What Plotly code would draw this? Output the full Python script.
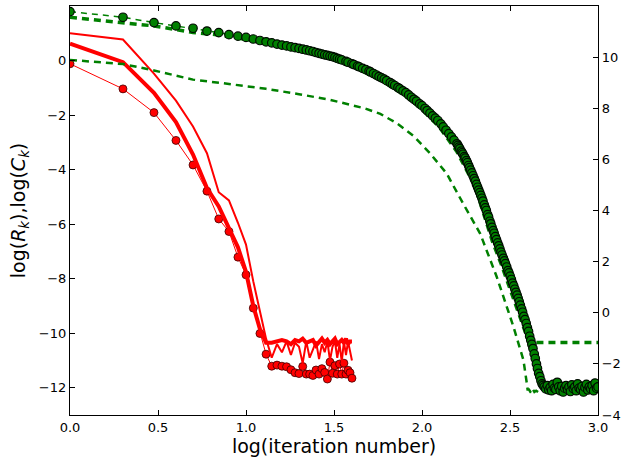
import numpy as np
import plotly.graph_objects as go

# ---------------- data ----------------
red_iter = list(range(1, 41))
r_thin = [1.0, 0.77, -0.48, -1.47, -2.42, -3.4, -4.83, -5.13, -5.95, -6.75, -8.1, -9.25, -10.2,
          -10.9, -10.4, -10.7, -10.3, -10.8, -10.35, -10.5, -11.1, -10.3, -10.9, -10.6, -10.3,
          -10.95, -10.4, -10.7, -10.3, -11.0, -10.5, -10.3, -10.9, -10.4, -11.05, -10.3, -10.8,
          -10.3, -10.6, -11.0]
r_thick = [0.62, -0.06, -1.18, -2.26, -3.45, -4.68, -5.35, -6.11, -6.85, -7.75, -9.0, -9.85, -10.35,
           -10.35, -10.3, -10.25, -10.3, -10.4, -10.25, -10.3, -10.2, -10.35, -10.3, -10.25, -10.45,
           -10.3, -10.2, -10.35, -10.25, -10.4, -10.3, -10.2, -10.4, -10.3, -10.25, -10.35, -10.2,
           -10.4, -10.3, -10.3]
r_dots = [-0.12, -1.04, -1.91, -2.93, -3.83, -4.79, -5.81, -6.27, -7.21, -7.86,
          -9.08, -10.01, -10.77, -11.21, -11.17, -11.21, -11.23, -11.34, -11.45, -11.48,
          -11.22, -11.5, -11.5, -11.55, -11.35, -11.5, -11.3, -11.44, -11.68, -11.06,
          -11.47, -11.19, -11.5, -11.13, -11.5, -11.1, -11.5, -11.36, -11.45, -11.65]

# green circles (right axis)
g1_iter_a = list(range(1, 33))
g1_val_a = [11.78, 11.56, 11.35, 11.22, 11.13, 11.02, 10.96, 10.88, 10.82, 10.77,
            10.71, 10.65, 10.60, 10.56, 10.51, 10.47, 10.44, 10.40, 10.37, 10.34,
            10.31, 10.28, 10.25, 10.22, 10.18, 10.15, 10.12, 10.09, 10.07, 10.04,
            10.02, 9.99]
g1_iter_b = [33, 34, 35, 37, 38, 40, 41, 43, 44, 46, 48, 50, 51, 53, 55, 57, 59, 61, 63, 66,
             68, 70, 73, 75, 78, 81, 84, 87, 90, 93, 97, 100, 104, 107, 111, 115, 119, 123,
             128, 132, 137, 142, 147, 152, 158]
g1_val_b = [9.95, 9.92, 9.89, 9.83, 9.80, 9.74, 9.71, 9.65, 9.62, 9.56, 9.51, 9.45, 9.42, 9.36,
            9.30, 9.24, 9.19, 9.14, 9.08, 9.00, 8.94, 8.89, 8.81, 8.76, 8.68, 8.61, 8.52, 8.43,
            8.35, 8.28, 8.17, 8.10, 7.99, 7.91, 7.81, 7.70, 7.61, 7.52, 7.39, 7.27, 7.14, 7.01,
            6.88, 6.75, 6.61]
g1_iter_c = [160, 162, 164, 167, 169, 171, 174, 176, 179, 181, 184, 186, 189, 192, 195, 198,
             201, 204, 207, 210, 213, 216, 219, 222, 226, 229, 232, 236, 239, 243, 246, 250,
             254, 257, 261, 265, 269, 273, 277, 281, 285, 290, 294, 298, 303, 308, 312, 317,
             322, 327, 332, 337, 342, 347, 352, 357, 362, 368, 373, 379, 385, 391, 397, 403,
             409, 415, 421, 427, 434, 440, 447, 453, 460, 467, 474, 481, 488]
g1_val_c = [6.55, 6.48, 6.42, 6.32, 6.26, 6.20, 6.11, 6.05, 5.95, 5.87, 5.76, 5.68, 5.58, 5.47,
            5.36, 5.25, 5.15, 5.02, 4.91, 4.80, 4.70, 4.59, 4.48, 4.37, 4.22, 4.10, 4.00, 3.84,
            3.74, 3.58, 3.48, 3.34, 3.21, 3.11, 2.98, 2.86, 2.73, 2.62, 2.50, 2.37, 2.26, 2.13,
            2.03, 1.92, 1.79, 1.65, 1.56, 1.43, 1.30, 1.16, 1.05, 0.92, 0.80, 0.69, 0.56, 0.43,
            0.30, 0.15, 0.02, -0.14, -0.27, -0.42, -0.58, -0.73, -0.92, -1.08, -1.24, -1.40,
            -1.61, -1.79, -2.0, -2.18, -2.37, -2.50, -2.66, -2.78, -2.84]
g1_iter_d = [495, 505, 515, 525, 535, 545, 555, 565, 576, 587, 598, 610, 622, 634, 646, 658,
             671, 684, 697, 710, 724, 738, 752, 766, 781, 796, 811, 827, 843, 859, 875, 892,
             909, 926, 944, 962, 981, 1000]
g1_val_d = [-2.9, -2.98, -2.85, -3.02, -2.92, -3.05, -2.8, -2.95, -3.0, -2.72, -2.9, -3.05,
            -2.88, -3.1, -2.95, -2.85, -3.0, -2.9, -3.08, -2.82, -2.97, -2.9, -3.05, -2.78,
            -2.95, -3.0, -2.88, -3.1, -2.92, -2.8, -3.02, -2.9, -2.98, -2.85, -3.05, -2.75,
            -2.95, -2.9]

# thick green dashed (right axis)
g2_iter = [1, 2, 3, 4, 5, 7, 10, 15, 20, 30, 40, 60, 80, 100, 126, 158, 200, 251, 282, 316,
           355, 380, 398, 410, 1000]
g2_val = [11.56, 11.35, 11.22, 11.08, 10.96, 10.87, 10.7, 10.48, 10.3, 10.0, 9.65, 9.05, 8.5,
          7.95, 7.25, 6.3, 4.95, 2.8, 1.9, 0.95, -0.05, -0.65, -1.0, -1.16, -1.16]

# lower green dashed (right axis)
g3_iter = [1, 2, 3, 5, 8, 13, 20, 30, 47, 58, 66, 72, 90, 111, 138, 164, 172, 214, 266, 331,
           377, 394, 398, 405, 415, 425, 435, 445, 460, 480, 520, 600, 800, 1000]
g3_val = [9.89, 9.73, 9.48, 9.12, 8.95, 8.76, 8.55, 8.33, 8.0, 7.78, 7.56, 7.41, 6.9, 6.24,
          5.45, 4.55, 4.25, 3.1, 1.4, -0.55, -1.85, -2.76, -3.0, -3.0, -3.12, -2.98, -3.1,
          -3.05, -3.12, -3.0, -3.08, -3.05, -3.05, -3.05]

x_ticks = [0.0, 0.5, 1.0, 1.5, 2.0, 2.5, 3.0]

for a, b in [(red_iter, r_thin), (red_iter, r_thick), (red_iter, r_dots), (g1_iter_a, g1_val_a),
             (g1_iter_b, g1_val_b), (g1_iter_c, g1_val_c), (g1_iter_d, g1_val_d),
             (g2_iter, g2_val), (g3_iter, g3_val)]:
    assert len(a) == len(b), (len(a), len(b))

g1_iter = g1_iter_a + g1_iter_b + g1_iter_c + g1_iter_d
g1_val = g1_val_a + g1_val_b + g1_val_c + g1_val_d

lx = lambda it: np.log10(np.array(it, dtype=float))

RED = "#ff0000"
GREEN = "#008000"

fig = go.Figure()
fig.add_trace(go.Scatter(x=lx(red_iter), y=r_dots, mode="lines+markers",
                         line=dict(color=RED, width=1),
                         marker=dict(color=RED, size=8, line=dict(color="#400000", width=0.8))))
fig.add_trace(go.Scatter(x=lx(red_iter), y=r_thick, mode="lines", line=dict(color=RED, width=4)))
fig.add_trace(go.Scatter(x=lx(red_iter), y=r_thin, mode="lines", line=dict(color=RED, width=2)))

fig.add_trace(go.Scatter(x=lx(g3_iter), y=g3_val, mode="lines", yaxis="y2",
                         line=dict(color=GREEN, width=2.5, dash="7px,5px")))
fig.add_trace(go.Scatter(x=lx(g2_iter), y=g2_val, mode="lines", yaxis="y2",
                         line=dict(color=GREEN, width=3.5, dash="7px,5px")))
fig.add_trace(go.Scatter(x=lx(g1_iter), y=g1_val, mode="lines+markers", yaxis="y2",
                         line=dict(color=GREEN, width=1.5, dash="6px,5px"),
                         marker=dict(color=GREEN, size=8.5, line=dict(color="#000a00", width=1.2))))

tickfont = dict(family="DejaVu Sans", size=13, color="black")
fig.update_layout(
    width=622, height=464,
    margin=dict(l=70, r=24, t=6, b=49, autoexpand=False),
    paper_bgcolor="white", plot_bgcolor="white",
    showlegend=False,
    font=dict(family="DejaVu Sans", color="black"),
    xaxis=dict(range=[0, 3], tickvals=x_ticks, tickformat=".1f", ticks="inside", ticklen=5,
               tickcolor="black", showline=True, linecolor="black", linewidth=1.2,
               mirror="ticks", showgrid=False, zeroline=False, tickfont=tickfont, automargin=False,
               title=dict(text="log(iteration number)", font=dict(size=19), standoff=2)),
    yaxis=dict(range=[-13, 2], dtick=2, tick0=0, ticks="inside", ticklen=5, tickcolor="black",
               showline=True, linecolor="black", linewidth=1.2, showgrid=False, zeroline=False,
               tickfont=tickfont, automargin=False,
               title=dict(text="log(<i>R</i><sub><i>k</i></sub>),log(<i>C</i><sub><i>k</i></sub>)",
                          font=dict(size=19), standoff=8)),
    yaxis2=dict(range=[-4, 12], dtick=2, tick0=0, overlaying="y", side="right", ticks="inside",
                ticklen=5, tickcolor="black", showline=True, linecolor="black", linewidth=1.2,
                showgrid=False, zeroline=False, tickfont=tickfont, automargin=False),
)

fig.write_html("out.html", config={"displayModeBar": False},
               post_script="document.body.style.margin='0';document.body.style.overflow='hidden';")
